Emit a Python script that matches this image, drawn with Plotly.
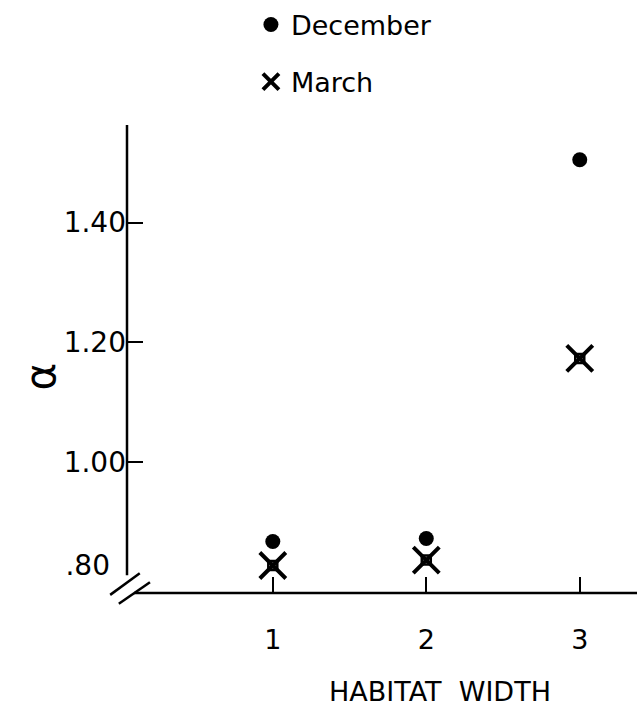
import plotly.graph_objects as go

habitat_width = [1, 2, 3]
december = [0.867, 0.872, 1.505]
march = [0.827, 0.836, 1.173]
y_tickvals = [1.00, 1.20, 1.40]
y_ticktext = ["1.00", "1.20", "1.40"]
y_break_tickvals = [0.80]
y_break_ticktext = [".80"]
x_tickvals = [1, 2, 3]
x_ticktext = ["1", "2", "3"]

FONT = "DejaVu Sans"
Y_RANGE = [0.781, 1.563]
fig = go.Figure()
fig.add_trace(go.Scatter(
    x=habitat_width, y=december, mode="markers", name="December",
    legendgroup="dec",
    marker=dict(symbol="circle", size=15, color="black"),
))
fig.add_trace(go.Scatter(
    x=habitat_width, y=march, mode="markers", name="March",
    legendgroup="mar",
    marker=dict(symbol="x-thin", size=26, color="black",
                line=dict(width=4, color="black")),
))
fig.add_trace(go.Scatter(
    x=habitat_width, y=march, mode="markers", showlegend=False,
    legendgroup="mar",
    marker=dict(symbol="square-open", size=9, color="black",
                line=dict(width=2.5, color="black")),
))
# helper trace on the overlay axis that carries the ".80" label
fig.add_trace(go.Scatter(
    x=habitat_width, y=march, yaxis="y2", mode="markers", showlegend=False,
    hoverinfo="skip", marker=dict(opacity=0, size=1),
))

fig.update_layout(
    width=637, height=707,
    margin=dict(l=127, r=0, t=122, b=114),
    paper_bgcolor="white", plot_bgcolor="rgba(0,0,0,0)",
    font=dict(family=FONT, size=27, color="black"),
    showlegend=True,
    legend=dict(x=0.243, y=1.266, xanchor="left", yanchor="top",
                traceorder="grouped", tracegroupgap=19,
                font=dict(size=27), bgcolor="rgba(0,0,0,0)"),
    xaxis=dict(range=[0.05, 3.373], showgrid=False, zeroline=False,
               showline=False, tickmode="array", tickvals=x_tickvals,
               ticktext=x_ticktext, ticks="inside", ticklen=16, tickwidth=2,
               tickcolor="black", ticklabelstandoff=28,
               tickfont=dict(size=27)),
    yaxis=dict(range=Y_RANGE, showgrid=False, zeroline=False,
               showline=False, tickmode="array", tickvals=y_tickvals,
               ticktext=y_ticktext, ticks="inside", ticklen=16, tickwidth=2,
               tickcolor="black", ticksuffix="\u00a0\u00a0",
               tickfont=dict(size=28)),
    yaxis2=dict(range=Y_RANGE, overlaying="y", side="left",
                showgrid=False, zeroline=False, showline=False,
                tickmode="array", tickvals=y_break_tickvals,
                ticktext=y_break_ticktext, ticks="", ticklabelstandoff=16,
                ticklabelshift=-16, tickfont=dict(size=28)),
)

line = dict(color="black", width=2.5)
# y axis with break
fig.add_shape(type="line", xref="paper", yref="paper", x0=0, x1=0,
              y0=0.038, y1=1.0, line=line)
# x axis
fig.add_shape(type="line", xref="paper", yref="paper", x0=0.014, x1=1.0,
              y0=0, y1=0, line=line)
# break marks
fig.add_shape(type="line", xref="paper", yref="paper", x0=-0.033, x1=0.025,
              y0=-0.004, y1=0.042, line=line)
fig.add_shape(type="line", xref="paper", yref="paper", x0=-0.016, x1=0.045,
              y0=-0.023, y1=0.023, line=line)

fig.add_annotation(text="HABITAT  WIDTH", xref="paper", yref="paper",
                   x=0.614, y=-0.21, xanchor="center", yanchor="middle",
                   showarrow=False, font=dict(size=27, family=FONT))
fig.add_annotation(text="α", xref="paper", yref="paper", x=-0.17, y=0.463,
                   xanchor="center", yanchor="middle",
                   showarrow=False, textangle=-90,
                   font=dict(size=42, family=FONT))

fig.write_html("out.html")
